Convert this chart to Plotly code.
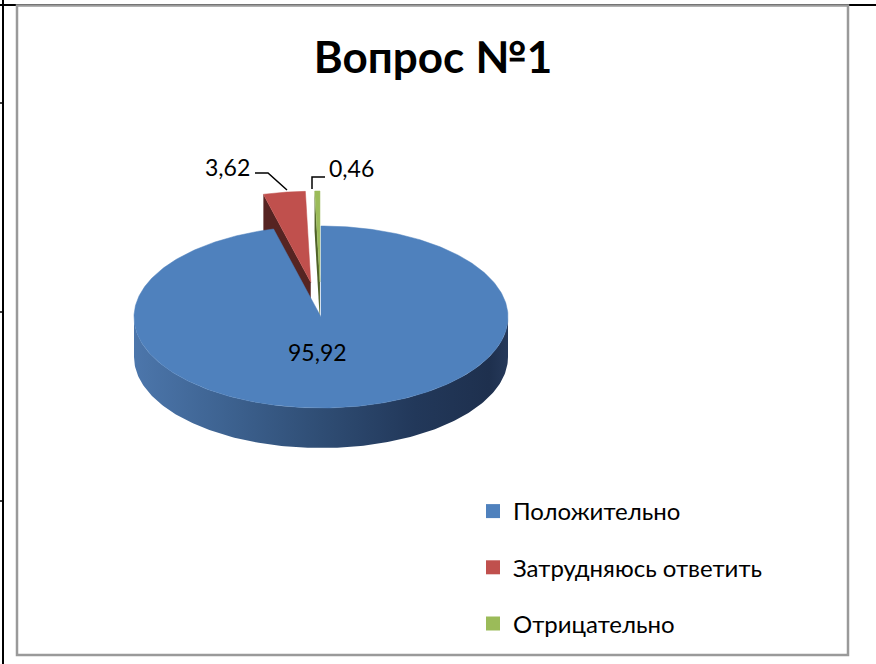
import numpy as np
import plotly.graph_objects as go

# ---- data ----
categories = ["Положительно", "Затрудняюсь ответить", "Отрицательно"]
values = [95.92, 3.62, 0.46]
colors_top = ["#4f81bd", "#c0504d", "#9bbb59"]
colors_face = ["#2e4b72", "#562422", "#4f6228"]
explode = [0.0, 0.385, 0.385]
title_text = "Вопрос №1"

# ---- geometry (layout / style) ----
W, H = 876, 664
cx, cy, rx, ry, depth = 321, 317, 187, 91, 40
FONT = "Lato"


def pts(thetas, off, r=1.0, dz=0.0):
    t = np.radians(thetas)
    return cx + off[0] + rx * r * np.sin(t), cy + off[1] - ry * r * np.cos(t) + dz


total = sum(values)
starts, ends = [], []
acc = 0.0
for v in values:
    starts.append(360 * acc / total)
    acc += v
    ends.append(360 * acc / total)

offsets = []
for s, e, ex in zip(starts, ends, explode):
    b = np.radians((s + e) / 2)
    offsets.append((rx * ex * np.sin(b), -ry * ex * np.cos(b)))

fig = go.Figure()

# back slices (red, green): radial face at start angle + top face
for i in [1, 2]:
    s, e, off = starts[i], ends[i], offsets[i]
    ox, oy = cx + off[0], cy + off[1]
    px, py = pts(np.array([s]), off)
    fx = [ox, px[0], px[0], ox, ox]
    fy = [oy, py[0], py[0] + depth, oy + depth, oy]
    fig.add_trace(go.Scatter(x=fx, y=fy, fill="toself", mode="lines",
                             line=dict(width=0, color=colors_face[i]),
                             fillcolor=colors_face[i], showlegend=False, hoverinfo="skip"))
    th = np.linspace(s, e, 40)
    ax, ay = pts(th, off)
    fig.add_trace(go.Scatter(x=np.concatenate([[ox], ax, [ox]]),
                             y=np.concatenate([[oy], ay, [oy]]),
                             fill="toself", mode="lines",
                             line=dict(width=0.5, color=colors_top[i]),
                             fillcolor=colors_top[i], showlegend=False, hoverinfo="skip"))

# blue side wall (front half) with gradient
off0 = offsets[0]
th_front = np.linspace(90, 270, 200)
tx, ty = pts(th_front, off0)
bx, by = pts(th_front[::-1], off0, dz=depth)
fig.add_trace(go.Scatter(x=np.concatenate([tx, bx, [tx[0]]]),
                         y=np.concatenate([ty, by, [ty[0]]]),
                         fill="toself", mode="lines",
                         line=dict(width=0, color="#2e4b72"),
                         fillgradient=dict(type="horizontal",
                                           colorscale=[[0, "#4c76ab"], [0.25, "#3d6290"],
                                                       [0.5, "#2f4d74"], [0.75, "#22385a"],
                                                       [0.95, "#1e304e"], [1, "#26395a"]]),
                         showlegend=False, hoverinfo="skip"))

# blue top face
th_b = np.linspace(starts[0], ends[0], 400)
ax, ay = pts(th_b, off0)
ox, oy = cx + off0[0], cy + off0[1]
fig.add_trace(go.Scatter(x=np.concatenate([[ox], ax, [ox]]),
                         y=np.concatenate([[oy], ay, [oy]]),
                         fill="toself", mode="lines",
                         line=dict(width=0.5, color=colors_top[0]),
                         fillcolor=colors_top[0], showlegend=False, hoverinfo="skip"))

# leader lines
fig.add_trace(go.Scatter(x=[255, 268, 287], y=[173, 173, 190], mode="lines",
                         line=dict(color="black", width=1.5), showlegend=False, hoverinfo="skip"))
fig.add_trace(go.Scatter(x=[312, 312, 325], y=[189, 177, 177], mode="lines",
                         line=dict(color="black", width=1.5), showlegend=False, hoverinfo="skip"))

# legend entries
for i, name in enumerate(categories):
    fig.add_trace(go.Scatter(x=[None], y=[None], mode="markers", name=name,
                             legendgroup=f"g{i}",
                             marker=dict(symbol="square", size=14, color=colors_top[i])))

# data labels
label_pos = [(317, 352), (227, 167), (351, 168)]
for v, (lx, ly) in zip(values, label_pos):
    fig.add_annotation(x=lx, y=ly, xref="x", yref="y", showarrow=False,
                       text=f"{v:.2f}".replace(".", ","),
                       font=dict(family=FONT, size=23, color="black"))

shapes = [
    dict(type="line", xref="paper", yref="paper", x0=3 / W, x1=3 / W, y0=0, y1=1,
         line=dict(color="black", width=2)),
    dict(type="line", xref="paper", yref="paper", x0=0, x1=1, y0=1 - 5 / H, y1=1 - 5 / H,
         line=dict(color="black", width=2)),
    dict(type="rect", xref="paper", yref="paper", x0=17 / W, x1=848 / W,
         y0=1 - 655 / H, y1=1 - 5.5 / H, line=dict(color="#9a9a9a", width=2.5),
         fillcolor="rgba(0,0,0,0)"),
]
for ty_ in [103, 312, 501]:
    shapes.append(dict(type="line", xref="paper", yref="paper", x0=0, x1=3 / W,
                       y0=1 - ty_ / H, y1=1 - ty_ / H, line=dict(color="black", width=1.5)))

fig.update_layout(
    width=W, height=H,
    margin=dict(l=0, r=0, t=0, b=0),
    paper_bgcolor="white", plot_bgcolor="white",
    xaxis=dict(range=[0, W], visible=False, fixedrange=True),
    yaxis=dict(range=[H, 0], visible=False, fixedrange=True),
    title=dict(text=f"<b>{title_text}</b>", x=433 / W, xanchor="center",
               y=1 - 58 / H, yanchor="middle",
               font=dict(family=FONT, size=44, color="black")),
    legend=dict(x=473 / W, xanchor="left", y=1 - 489 / H, yanchor="top",
                font=dict(family=FONT, size=24, color="black"),
                tracegroupgap=22, bgcolor="rgba(0,0,0,0)"),
    shapes=shapes,
    showlegend=True,
)

fig.write_html("out.html", config={"displayModeBar": False},
               post_script="document.body.style.margin='0';document.body.style.overflow='hidden';")
